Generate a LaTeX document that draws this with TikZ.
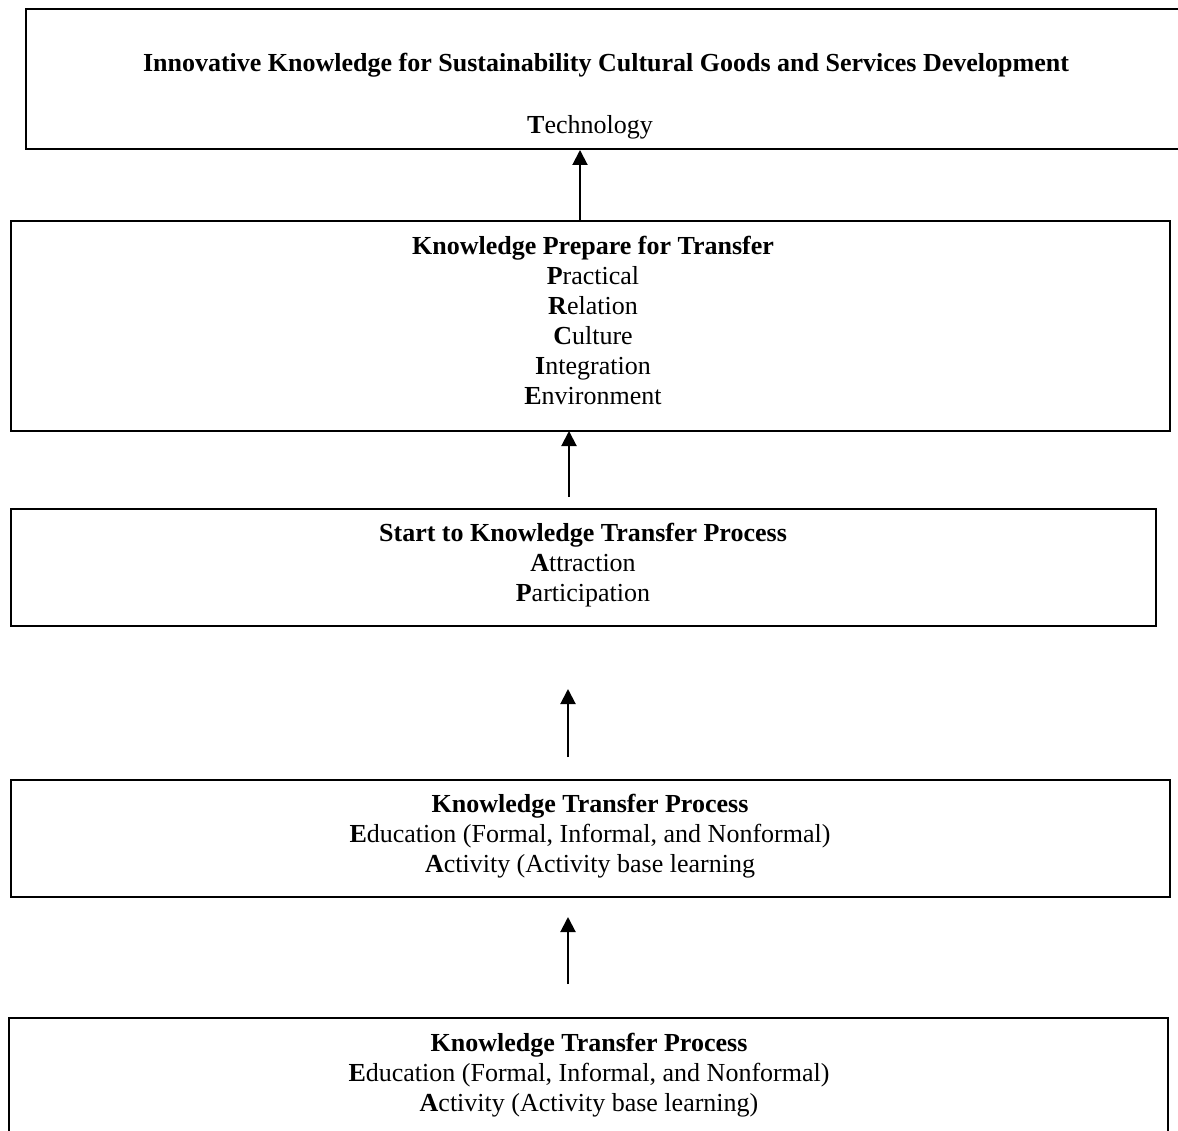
\documentclass[tikz,border=0pt]{standalone}
\usepackage{fontspec}
\setmainfont{Liberation Serif}
\usetikzlibrary{arrows.meta}
\tikzset{
  boxline/.style={line width=2.2pt, line join=miter},
  arr/.style={line width=2pt, -{Triangle[length=15pt,width=15pt]}},
  txt/.style={font=\fontsize{26pt}{30pt}\selectfont, align=center, inner sep=0pt, anchor=center}
}
\begin{document}
\begin{tikzpicture}[x=1pt,y=-1pt]
\useasboundingbox (0,0) rectangle (1178,1131);
% box 1 (open to the right)
\draw[boxline] (1178,9) -- (26,9) -- (26,149) -- (1178,149);
\coordinate (b1bot) at (580,150);
\node[txt] (t1a) at (606,65) {\textbf{Innovative Knowledge for Sustainability Cultural Goods and Services Development}};
\node[txt] (t1b) at (590,127) {\textbf{T}echnology};
% box 2
\draw[boxline] (11,221) rectangle (1170,431);
\coordinate (b2top) at (580,220);
\coordinate (b2bot) at (569,431);
\node[txt] (t2) at (593,320) {\textbf{Knowledge Prepare for Transfer}\\ \textbf{P}ractical\\ \textbf{R}elation\\ \textbf{C}ulture\\ \textbf{I}ntegration\\ \textbf{E}nvironment};
% box 3
\draw[boxline] (11,509) rectangle (1156,626);
\coordinate (a2tail) at (569,497);
\node[txt] (t3) at (583,565) {\textbf{Start to Knowledge Transfer Process}\\ \textbf{A}ttraction\\ \textbf{P}articipation};
% arrow 3 (free)
\coordinate (a3tail) at (568,757);
\coordinate (a3tip) at (568,689);
% box 4
\draw[boxline] (11,780) rectangle (1170,897);
\coordinate (b4bot) at (568,917);
\node[txt] (t4) at (590,836) {\textbf{Knowledge Transfer Process}\\ \textbf{E}ducation (Formal, Informal, and Nonformal)\\ \textbf{A}ctivity (Activity base learning};
% box 5 (open at the bottom)
\draw[boxline] (9,1131) -- (9,1018) -- (1168,1018) -- (1168,1131);
\coordinate (a4tail) at (568,984);
\node[txt] (t5) at (589,1075) {\textbf{Knowledge Transfer Process}\\ \textbf{E}ducation (Formal, Informal, and Nonformal)\\ \textbf{A}ctivity (Activity base learning)};
% arrows
\draw[arr] (b2top) -- (b1bot);
\draw[arr] (a2tail) -- (b2bot);
\draw[arr] (a3tail) -- (a3tip);
\draw[arr] (a4tail) -- (b4bot);
\end{tikzpicture}
\end{document}
